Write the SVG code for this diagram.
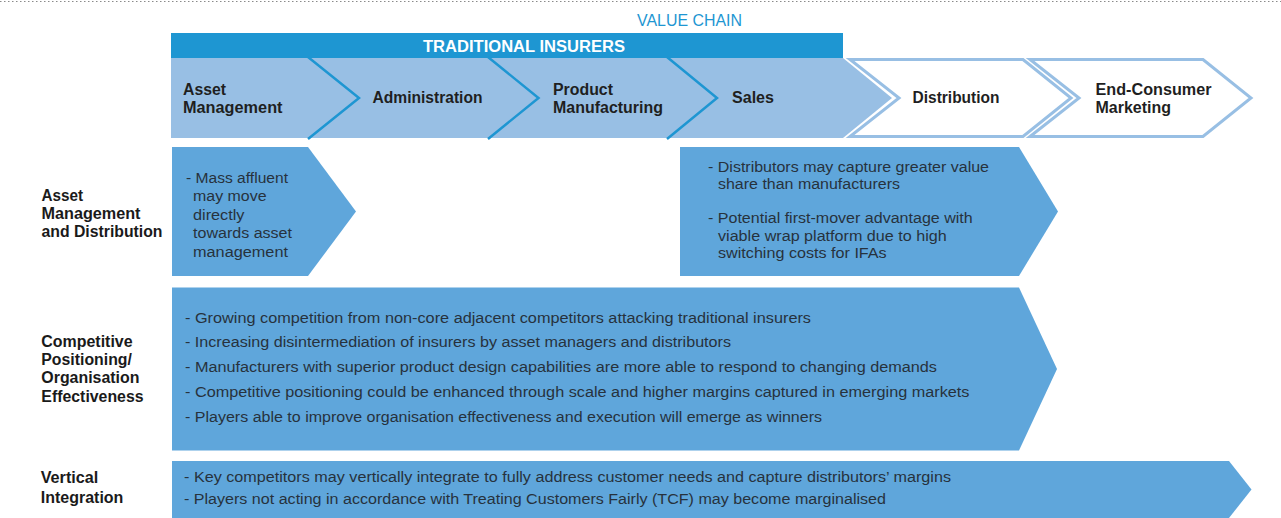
<svg xmlns="http://www.w3.org/2000/svg" width="1281" height="518" viewBox="0 0 1281 518">
  <style>
    .bg { fill: #ffffff; }
    .rule { stroke: #8a8a8a; stroke-width: 1.2; stroke-dasharray: 1.5 2.5; fill: none; }
    .caption { font-family: "Liberation Sans", Arial, sans-serif; font-size: 15.8px; fill: #1e96d2; }
    .bar { fill: #1e96d2; }
    .bar-text { font-family: "Liberation Sans", Arial, sans-serif; font-size: 15.8px; font-weight: bold; fill: #ffffff; }
    .chain-fill { fill: #98bfe4; }
    .divider { fill: none; stroke: #1e96d2; stroke-width: 2.5; stroke-linejoin: miter; }
    .chain-open { fill: #ffffff; stroke: #98bfe4; stroke-width: 3; }
    .stage { font-family: "Liberation Sans", Arial, sans-serif; font-size: 15.8px; font-weight: bold; fill: #1f1f1f; }
    .label { font-family: "Liberation Sans", Arial, sans-serif; font-size: 15.8px; font-weight: bold; fill: #1a1a1a; }
    .panel { fill: #5fa6db; }
    .body { font-family: "Liberation Sans", Arial, sans-serif; font-size: 15.5px; fill: #27323d; }
  </style>

  <rect class="bg" x="0" y="0" width="1281" height="518"/>
  <line class="rule" x1="0" y1="1.5" x2="1281" y2="1.5"/>

  <!-- Value chain header -->
  <g id="value-chain-title">
    <text class="caption" x="637" y="26" textLength="105" lengthAdjust="spacingAndGlyphs">VALUE CHAIN</text>
  </g>
  <g id="traditional-insurers">
    <rect class="bar" x="171" y="33" width="672" height="25"/>
    <text class="bar-text" x="423" y="51.5" textLength="202" lengthAdjust="spacingAndGlyphs">TRADITIONAL INSURERS</text>
  </g>

  <!-- Value chain stages -->
  <g id="chain-band">
    <polygon class="chain-fill" points="171,58 843,58 892,98 843,138 171,138"/>
  </g>
  <g id="connectors">
    <polyline class="divider" points="308,57 359,98 308,139"/>
    <polyline class="divider" points="488,57 538.5,98 488,139"/>
    <polyline class="divider" points="667,57 717,98 667,139"/>
  </g>
  <g id="stage-asset-management">
    <text class="stage" x="183" y="95" textLength="43" lengthAdjust="spacingAndGlyphs">Asset</text>
    <text class="stage" x="183" y="113.3" textLength="99.5" lengthAdjust="spacingAndGlyphs">Management</text>
  </g>
  <g id="stage-administration">
    <text class="stage" x="372.5" y="103" textLength="110" lengthAdjust="spacingAndGlyphs">Administration</text>
  </g>
  <g id="stage-product-manufacturing">
    <text class="stage" x="553" y="95" textLength="60" lengthAdjust="spacingAndGlyphs">Product</text>
    <text class="stage" x="553" y="113.3" textLength="110" lengthAdjust="spacingAndGlyphs">Manufacturing</text>
  </g>
  <g id="stage-sales">
    <text class="stage" x="732" y="103" textLength="42" lengthAdjust="spacingAndGlyphs">Sales</text>
  </g>
  <g id="stage-distribution">
    <polygon class="chain-open" points="850,59.5 1023,59.5 1071,98 1023,136.5 850,136.5 899,98"/>
    <text class="stage" x="912.5" y="103" textLength="87" lengthAdjust="spacingAndGlyphs">Distribution</text>
  </g>
  <g id="stage-end-consumer-marketing">
    <polygon class="chain-open" points="1030,59.5 1203,59.5 1251,98 1203,136.5 1030,136.5 1079,98"/>
    <text class="stage" x="1095.5" y="95" textLength="116" lengthAdjust="spacingAndGlyphs">End-Consumer</text>
    <text class="stage" x="1095.5" y="113.3" textLength="75.5" lengthAdjust="spacingAndGlyphs">Marketing</text>
  </g>

  <!-- Row: Asset Management and Distribution -->
  <g id="row-asset-management-label">
    <text class="label" x="41.5" y="200.5" textLength="41.6" lengthAdjust="spacingAndGlyphs">Asset</text>
    <text class="label" x="41.5" y="218.8" textLength="99" lengthAdjust="spacingAndGlyphs">Management</text>
    <text class="label" x="41.5" y="237.2" textLength="121" lengthAdjust="spacingAndGlyphs">and Distribution</text>
  </g>
  <g id="panel-mass-affluent">
    <polygon class="panel" points="172,147 308,147 356,211.5 308,276 172,276"/>
    <text class="body" x="186" y="182.5" textLength="102" lengthAdjust="spacingAndGlyphs">- Mass affluent</text>
    <text class="body" x="193" y="201" textLength="73.5" lengthAdjust="spacingAndGlyphs">may move</text>
    <text class="body" x="193" y="219.5" textLength="51.5" lengthAdjust="spacingAndGlyphs">directly</text>
    <text class="body" x="193" y="238" textLength="99" lengthAdjust="spacingAndGlyphs">towards asset</text>
    <text class="body" x="193" y="256.5" textLength="95" lengthAdjust="spacingAndGlyphs">management</text>
  </g>
  <g id="panel-distributors">
    <polygon class="panel" points="680,147 1019,147 1058,211.5 1019,276 680,276"/>
    <text class="body" x="708" y="171.7" textLength="281" lengthAdjust="spacingAndGlyphs">- Distributors may capture greater value</text>
    <text class="body" x="718" y="189.4" textLength="182" lengthAdjust="spacingAndGlyphs">share than manufacturers</text>
    <text class="body" x="708" y="223" textLength="264.7" lengthAdjust="spacingAndGlyphs">- Potential first-mover advantage with</text>
    <text class="body" x="718" y="240.7" textLength="228.7" lengthAdjust="spacingAndGlyphs">viable wrap platform due to high</text>
    <text class="body" x="718" y="258.3" textLength="168.7" lengthAdjust="spacingAndGlyphs">switching costs for IFAs</text>
  </g>

  <!-- Row: Competitive Positioning / Organisation Effectiveness -->
  <g id="row-competitive-label">
    <text class="label" x="41.3" y="346.7" textLength="91.3" lengthAdjust="spacingAndGlyphs">Competitive</text>
    <text class="label" x="41.3" y="365" textLength="90.6" lengthAdjust="spacingAndGlyphs">Positioning/</text>
    <text class="label" x="41.3" y="383.3" textLength="98.2" lengthAdjust="spacingAndGlyphs">Organisation</text>
    <text class="label" x="41.3" y="401.7" textLength="102.3" lengthAdjust="spacingAndGlyphs">Effectiveness</text>
  </g>
  <g id="panel-competitive">
    <polygon class="panel" points="172,287.5 1019,287.5 1057,369 1019,450.5 172,450.5"/>
    <text class="body" x="185" y="322.7" textLength="626" lengthAdjust="spacingAndGlyphs">- Growing competition from non-core adjacent competitors attacking traditional insurers</text>
    <text class="body" x="185" y="347.4" textLength="546" lengthAdjust="spacingAndGlyphs">- Increasing disintermediation of insurers by asset managers and distributors</text>
    <text class="body" x="185" y="372.2" textLength="752" lengthAdjust="spacingAndGlyphs">- Manufacturers with superior product design capabilities are more able to respond to changing demands</text>
    <text class="body" x="185" y="396.9" textLength="784.5" lengthAdjust="spacingAndGlyphs">- Competitive positioning could be enhanced through scale and higher margins captured in emerging markets</text>
    <text class="body" x="185" y="421.6" textLength="637" lengthAdjust="spacingAndGlyphs">- Players able to improve organisation effectiveness and execution will emerge as winners</text>
  </g>

  <!-- Row: Vertical Integration -->
  <g id="row-vertical-label">
    <text class="label" x="40.7" y="483.3" textLength="57.7" lengthAdjust="spacingAndGlyphs">Vertical</text>
    <text class="label" x="40.7" y="503.3" textLength="82.7" lengthAdjust="spacingAndGlyphs">Integration</text>
  </g>
  <g id="panel-vertical">
    <polygon class="panel" points="172,461 1229,461 1251.5,489.5 1229,518 172,518"/>
    <text class="body" x="184" y="481.7" textLength="767" lengthAdjust="spacingAndGlyphs">- Key competitors may vertically integrate to fully address customer needs and capture distributors’ margins</text>
    <text class="body" x="184" y="503.5" textLength="702" lengthAdjust="spacingAndGlyphs">- Players not acting in accordance with Treating Customers Fairly (TCF) may become marginalised</text>
  </g>
</svg>
